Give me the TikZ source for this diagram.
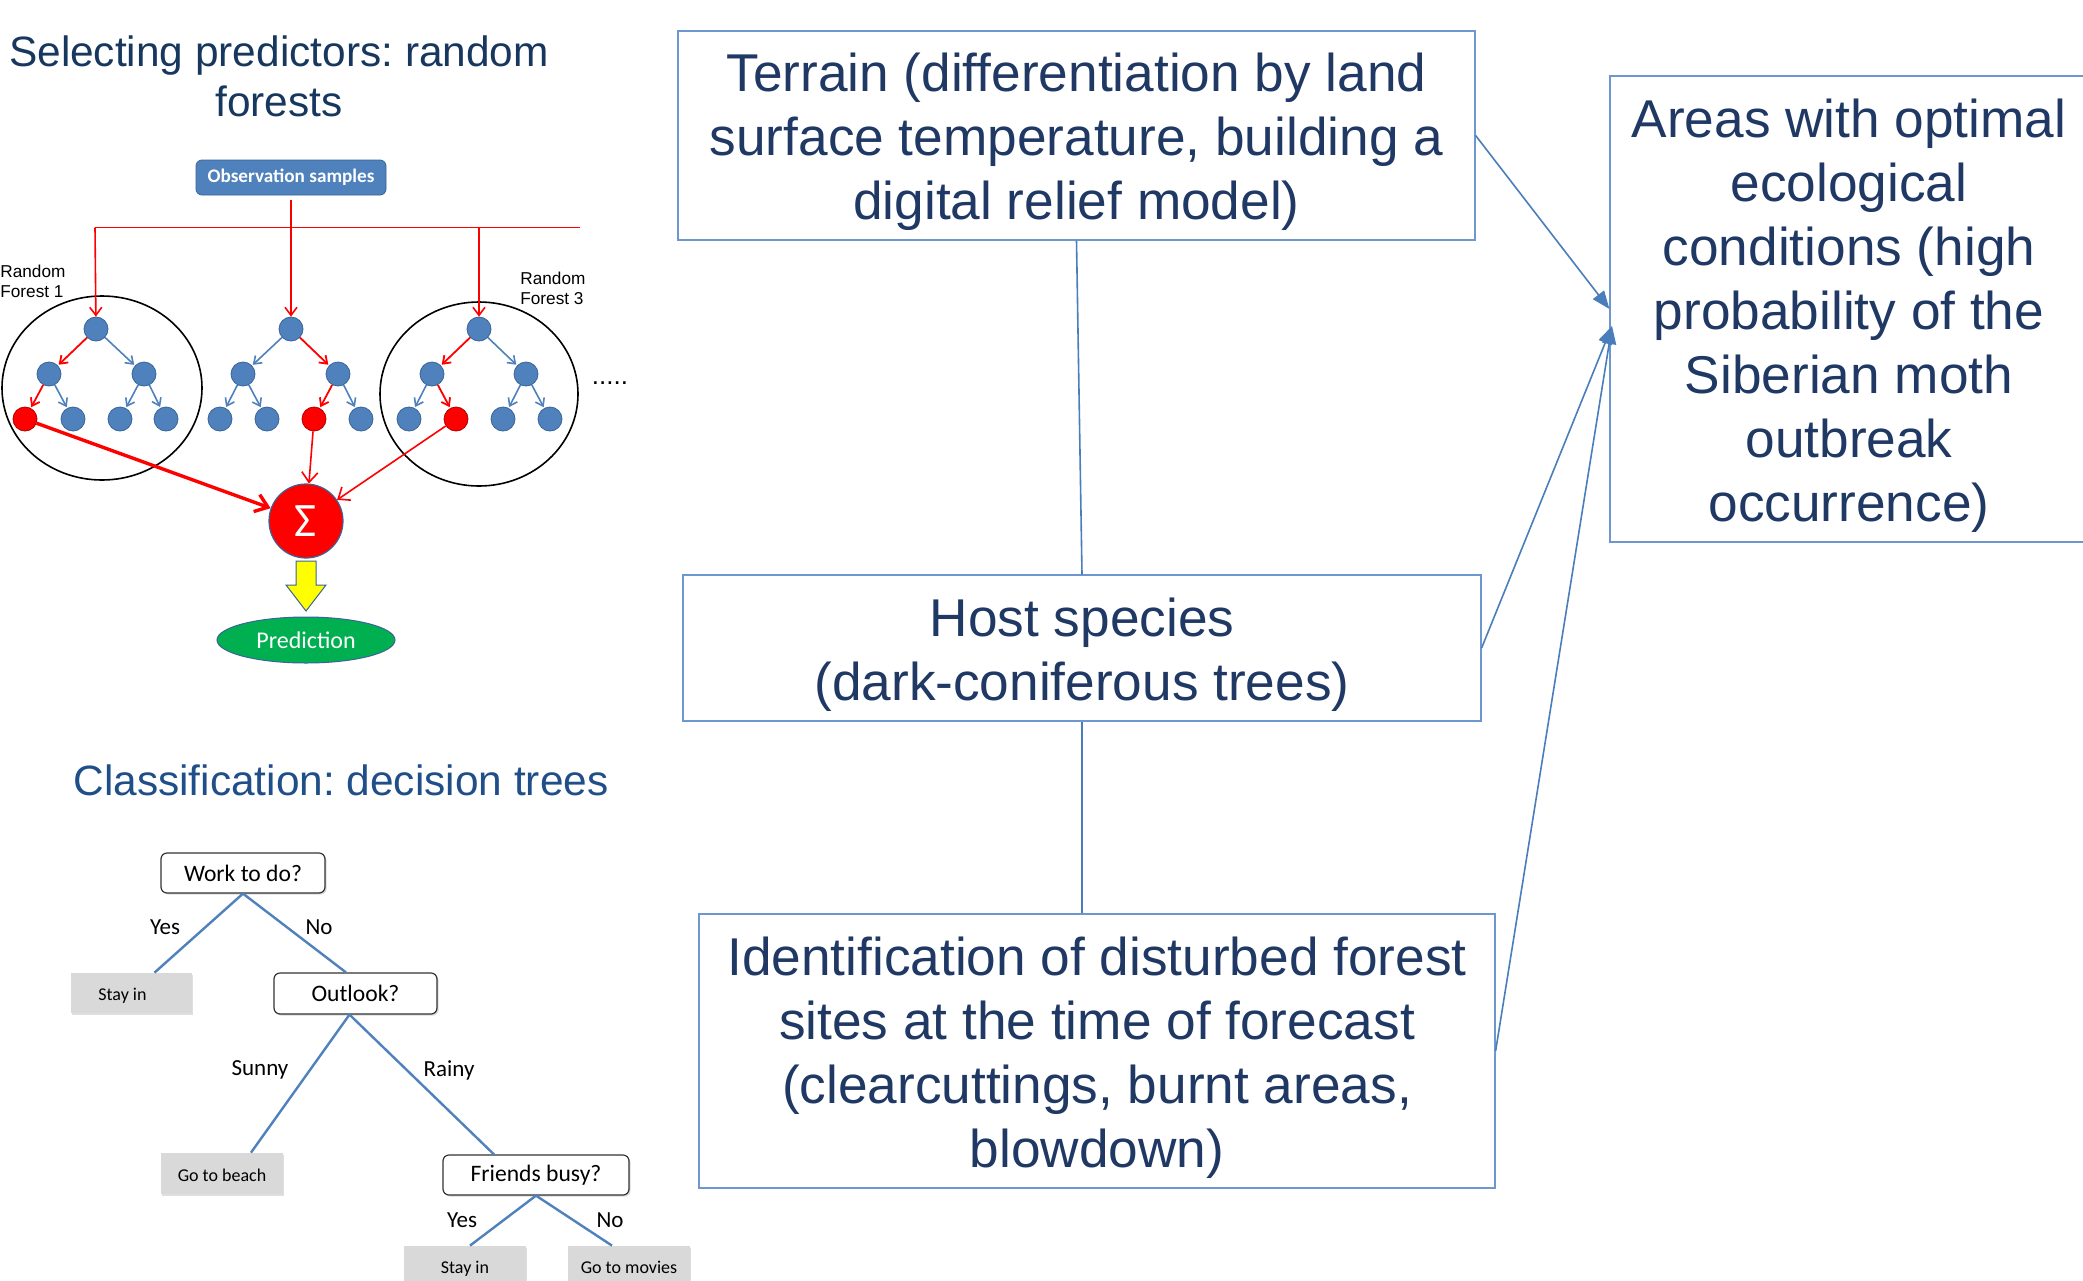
\documentclass[tikz,border=0pt]{standalone}
\usepackage{fontspec}
\setmainfont{Liberation Sans}
\newfontfamily\carl{Carlito}
\usetikzlibrary{arrows.meta,shadows,calc,shapes.geometric}
\frenchspacing
\definecolor{navy}{HTML}{1F3864}
\definecolor{titlenavy}{HTML}{17375E}
\definecolor{titleblue}{HTML}{1F4E89}
\definecolor{boxline}{HTML}{6E96CF}
\definecolor{arrowblue}{HTML}{4A7EBB}
\definecolor{nodeblue}{HTML}{4F81BD}
\definecolor{nodeedge}{HTML}{3A6497}
\definecolor{leafgray}{HTML}{D9D9D9}
\definecolor{predgreen}{HTML}{00B050}
\definecolor{sunyellow}{HTML}{FFFF00}
\newcommand{\topstrut}{\rule{0pt}{26pt}}
\begin{document}
\begin{tikzpicture}[x=0.5pt,y=-0.5pt,
  bigbox/.style={draw=boxline, line width=0.6pt, align=center, text=navy,
    font=\fontsize{26.6}{32}\selectfont, inner sep=0pt},
  link/.style={draw=arrowblue, line width=0.8pt},
  linkarrow/.style={link, -{Triangle[length=9pt,width=7pt]}},
  titletext/.style={align=center, font=\fontsize{21.2}{25}\selectfont},
  tnode/.style={circle, fill=nodeblue, draw=nodeedge, line width=0.4pt,
    minimum size=12pt, inner sep=0pt},
  rnode/.style={tnode, fill=red, draw=red!70!black},
  bedge/.style={draw=nodeblue, line width=0.8pt, shorten >=0.5pt,
    -{Straight Barb[length=3.5pt,width=5pt]}},
  redge/.style={draw=red, line width=0.9pt, shorten >=0.5pt,
    -{Straight Barb[length=3.5pt,width=5pt]}},
  redline/.style={draw=red, line width=0.8pt},
  redarrow/.style={redline, -{Straight Barb[length=4pt,width=6pt]}},
  forest/.style={draw=black, ellipse, line width=0.8pt, inner sep=0pt},
  qbox/.style={draw=black!80, rounded corners=3pt, fill=white, line width=0.6pt,
    font=\carl\fontsize{11.8}{14}\selectfont, minimum width=82pt,
    minimum height=20pt, inner sep=0pt,
    drop shadow={shadow xshift=0.8pt, shadow yshift=-0.8pt, opacity=0.3}},
  lbox/.style={fill=leafgray, font=\carl\fontsize{9}{11}\selectfont,
    minimum width=61pt, minimum height=20pt, inner sep=0pt,
    text height=7.5pt, text depth=0pt,
    drop shadow={shadow xshift=0.6pt, shadow yshift=-0.8pt, opacity=0.25}},
  dlink/.style={draw=nodeblue, line width=1.2pt},
  dlabel/.style={font=\carl\fontsize{11.5}{13}\selectfont, inner sep=0pt}
]
\useasboundingbox[fill=white] (0,0) rectangle (2083,1280);

% ---------- right part ----------
\node[bigbox, minimum width=398.5pt, minimum height=104.5pt] (terrain) at (1076.5,135.5)
  {\topstrut Terrain (differentiation by land\\surface temperature, building a\\digital relief model)};
\node[bigbox, minimum width=399pt, minimum height=73pt] (host) at (1082,648)
  {\topstrut Host species\\(dark-coniferous trees)};
\node[bigbox, minimum width=398pt, minimum height=137pt] (ident) at (1097,1051)
  {\topstrut Identification of disturbed forest\\sites at the time of forecast\\(clearcuttings, burnt areas,\\blowdown)};
\node[bigbox, minimum width=239pt, minimum height=233pt] (areas) at (1849,309)
  {\topstrut Areas with optimal\\ecological\\conditions (high\\probability of the\\Siberian moth\\outbreak\\occurrence)};

\draw[link] (terrain.south) -- (host.north);
\draw[link] (host.south) -- (host.south |- ident.north);
\coordinate (areasin) at (1612,326);
\draw[linkarrow] (terrain.east) -- (areas.west);
\draw[linkarrow] (host.east) -- (areasin);
\draw[linkarrow] (ident.east) -- (areasin);

% ---------- titles ----------
\node[titletext, text=titlenavy] (title1) at (279,76) {Selecting predictors: random\\forests};
\node[titletext, text=titleblue] (title2) at (341,780) {Classification: decision trees};

% ---------- random forest ----------
\node[forest, minimum width=100pt, minimum height=92pt] (f1) at (102,388) {};
\node[forest, minimum width=99pt, minimum height=92pt] (f3) at (479,394) {};

\node[draw=nodeedge, fill=nodeblue, rounded corners=3pt, minimum width=95pt,
  minimum height=17.5pt, inner sep=0pt, text=white,
  font=\carl\bfseries\fontsize{9.6}{11}\selectfont] (obs) at (291,177.5) {Observation samples};

% tree 1
\node[tnode] (a1) at (96,329) {};
\node[tnode] (a2) at (49,374) {};
\node[tnode] (a3) at (144,374) {};
\node[rnode] (a4) at (25,419) {};
\node[tnode] (a5) at (73,419) {};
\node[tnode] (a6) at (120,419) {};
\node[tnode] (a7) at (166,419) {};
% tree 2
\node[tnode] (b1) at (291,329) {};
\node[tnode] (b2) at (243,374) {};
\node[tnode] (b3) at (338,374) {};
\node[tnode] (b4) at (220,419) {};
\node[tnode] (b5) at (267,419) {};
\node[rnode] (b6) at (314,419) {};
\node[tnode] (b7) at (361,419) {};
% tree 3
\node[tnode] (c1) at (479,329) {};
\node[tnode] (c2) at (432,374) {};
\node[tnode] (c3) at (526,374) {};
\node[tnode] (c4) at (409,419) {};
\node[rnode] (c5) at (456,419) {};
\node[tnode] (c6) at (503,419) {};
\node[tnode] (c7) at (550,419) {};

\draw[redge] (a1) -- (a2);
\draw[bedge] (a1) -- (a3);
\draw[redge] (a2) -- (a4);
\draw[bedge] (a2) -- (a5);
\draw[bedge] (a3) -- (a6);
\draw[bedge] (a3) -- (a7);
\draw[bedge] (b1) -- (b2);
\draw[redge] (b1) -- (b3);
\draw[bedge] (b2) -- (b4);
\draw[bedge] (b2) -- (b5);
\draw[redge] (b3) -- (b6);
\draw[bedge] (b3) -- (b7);
\draw[redge] (c1) -- (c2);
\draw[bedge] (c1) -- (c3);
\draw[bedge] (c2) -- (c4);
\draw[redge] (c2) -- (c5);
\draw[bedge] (c3) -- (c6);
\draw[bedge] (c3) -- (c7);

\coordinate (hl) at (95,227.5);
\coordinate (hr) at (580,227.5);
\draw[redline] (hl) -- (hr);
\draw[redarrow, shorten <=2.5pt] (obs.south) -- (b1);
\draw[redarrow] (hl) -- (a1);
\draw[redarrow] (c1 |- hl) -- (c1);

\node[anchor=west, align=left, inner sep=0pt, font=\fontsize{8.6}{10}\selectfont] (rf1) at (0,281) {Random\\Forest 1};
\node[anchor=west, align=left, inner sep=0pt, font=\fontsize{8.6}{10}\selectfont] (rf3) at (520,288) {Random\\Forest 3};
\node[inner sep=0pt, font=\fontsize{13}{13}\selectfont] (dots) at (610,383) {.....};

\node[circle, fill=red, draw=nodeedge, line width=0.6pt, minimum size=37pt, inner sep=0pt,
  text=white, font=\carl\fontsize{24}{24}\selectfont] (sigma) at (306,521) {Σ};
\draw[draw=red, line width=1.7pt, -{Straight Barb[length=6pt,width=9pt]}] (a4) -- (sigma);
\draw[redline, -{Straight Barb[length=5pt,width=8pt]}] (b6) -- (sigma);
\draw[redline, -{Straight Barb[length=5pt,width=8pt]}] (c5) -- (sigma);

\node[ellipse, fill=predgreen, draw=nodeedge, line width=0.5pt, minimum width=89pt,
  minimum height=23pt, inner sep=0pt, text=white,
  font=\carl\fontsize{12}{14}\selectfont] (pred) at (306,640) {Prediction};
\draw[fill=sunyellow, draw=nodeedge, line width=0.5pt]
  (296,561) -- (316,561) -- (316,585) -- (326,585) -- (306,611) -- (286,585) -- (296,585) -- cycle;

% ---------- decision tree ----------
\node[qbox, minimum width=82pt, minimum height=20pt] (work) at (243,873) {Work to do?};
\node[lbox, minimum width=60.5pt] (stay1) at (131.5,993) {Stay in\kern9pt\relax};
\node[qbox, minimum width=81.5pt, minimum height=20.5pt] (outlook) at (355.5,993.5) {Outlook?};
\node[lbox, minimum height=20.5pt] (beach) at (222,1173.5) {Go to beach};
\node[qbox, minimum width=93pt] (friends) at (536,1175) {Friends busy?};
\node[lbox] (stay2) at (465,1266) {Stay in};
\node[lbox] (movies) at (629,1266) {Go to movies};

\draw[dlink] (work.south) -- ([xshift=11.5pt]stay1.north);
\draw[dlink] (work.south) -- ([xshift=-4.75pt]outlook.north);
\draw[dlink] ([xshift=-3pt]outlook.south) -- ([xshift=14.5pt]beach.north);
\draw[dlink] ([xshift=-3pt]outlook.south) -- ([xshift=-21pt]friends.north);
\draw[dlink] (friends.south) -- ([xshift=2.5pt]stay2.north);
\draw[dlink] (friends.south) -- ([xshift=-8.5pt]movies.north);

\node[dlabel] (yes1) at (165,927) {Yes};
\node[dlabel] (no1) at (319,927) {No};
\node[dlabel] (sunny) at (260,1070) {Sunny};
\node[dlabel] (rainy) at (449,1070) {Rainy};
\node[dlabel] (yes2) at (462,1220) {Yes};
\node[dlabel] (no2) at (610,1220) {No};
\end{tikzpicture}
\end{document}
